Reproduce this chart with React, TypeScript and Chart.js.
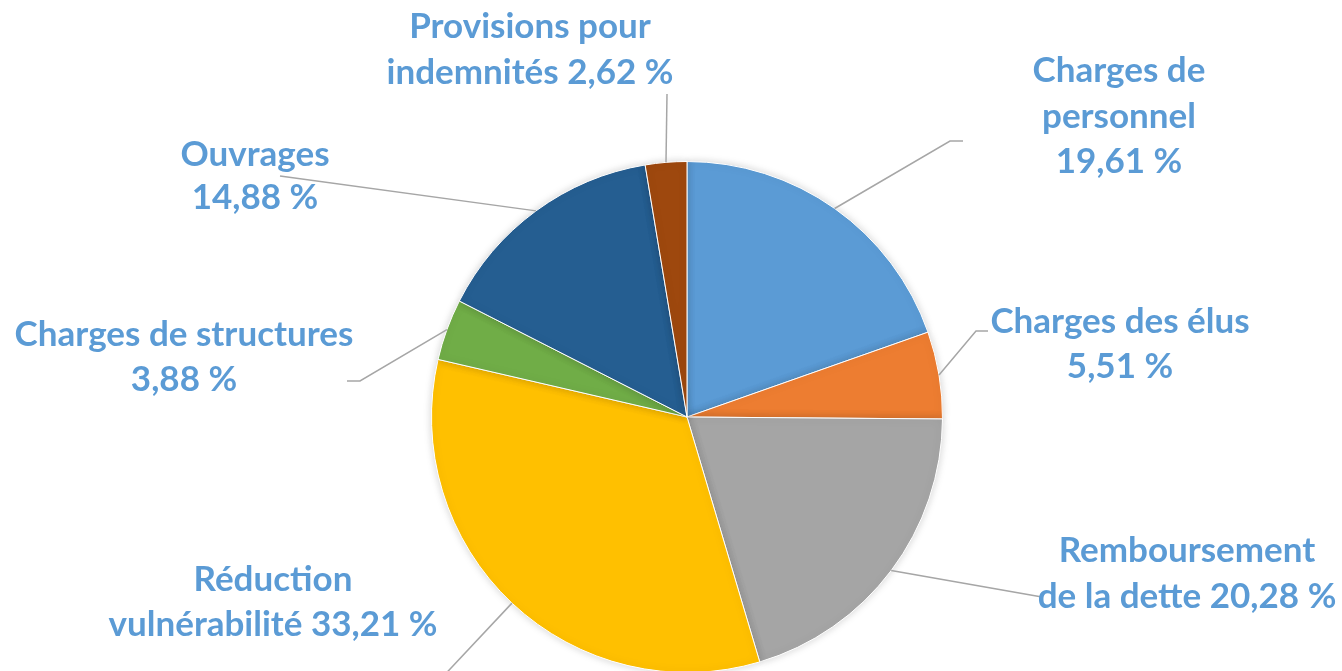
import React, { useEffect, useRef } from "react";
import { Chart, registerables } from "chart.js";

Chart.register(...registerables);

const categories = [
  "Charges de personnel",
  "Charges des élus",
  "Remboursement de la dette",
  "Réduction vulnérabilité",
  "Charges de structures",
  "Ouvrages",
  "Provisions pour indemnités",
];
const values = [19.61, 5.51, 20.28, 33.21, 3.88, 14.88, 2.62];
const colors = ["#5B9BD5", "#ED7D31", "#A5A5A5", "#FFC000", "#70AD47", "#255E91", "#9E480E"];

// Label layout: text lines ({v} = formatted value), centre x, line y's, leader line points
const labelLayout = [
  { lines: ["Charges de", "personnel", "{v}"], x: 1119, ys: [71, 117, 162], leader: [[950, 141], [963, 141]] },
  { lines: ["Charges des élus", "{v}"], x: 1120, ys: [322, 367], leader: [[976, 331], [988, 331]] },
  { lines: ["Remboursement", "de la dette {v}"], x: 1187, ys: [551, 597], leader: [[1042, 597]] },
  { lines: ["Réduction", "vulnérabilité {v}"], x: 273, ys: [580, 625], leader: [[436, 684]] },
  { lines: ["Charges de structures", "{v}"], x: 184, ys: [335, 380], leader: [[360, 381], [347, 381]] },
  { lines: ["Ouvrages", "{v}"], x: 255, ys: [155, 198], leader: [[280, 176]] },
  { lines: ["Provisions pour", "indemnités {v}"], x: 530, ys: [27, 73], leader: [[667, 94]] },
];

const fmt = (v: number) => v.toFixed(2).replace(".", ",") + " %";

const shadowPlugin = {
  id: "pieShadow",
  beforeDatasetsDraw(chart: any) {
    const ctx = chart.ctx;
    ctx.save();
    ctx.shadowColor = "rgba(0,0,0,0.18)";
    ctx.shadowBlur = 8;
    ctx.shadowOffsetX = 0;
    ctx.shadowOffsetY = 0;
  },
  afterDatasetsDraw(chart: any) {
    chart.ctx.restore();
  },
};

const labelPlugin = {
  id: "pieLabels",
  afterDraw(chart: any) {
    const ctx = chart.ctx;
    const meta = chart.getDatasetMeta(0);
    ctx.save();
    meta.data.forEach((arc: any, i: number) => {
      const p = arc.getProps(["x", "y", "startAngle", "endAngle", "outerRadius"], true);
      const mid = (p.startAngle + p.endAngle) / 2;
      const sx = p.x + Math.cos(mid) * p.outerRadius;
      const sy = p.y + Math.sin(mid) * p.outerRadius;
      const L = labelLayout[i];
      ctx.beginPath();
      ctx.moveTo(sx, sy);
      L.leader.forEach((pt) => ctx.lineTo(pt[0], pt[1]));
      ctx.strokeStyle = "#A6A6A6";
      ctx.lineWidth = 1.5;
      ctx.stroke();
    });
    ctx.fillStyle = "#5B9BD5";
    ctx.font = "bold 35px Lato";
    ctx.textAlign = "center";
    ctx.textBaseline = "middle";
    labelLayout.forEach((L, i) => {
      L.lines.forEach((line, j) => {
        ctx.fillText(line.replace("{v}", fmt(values[i])), L.x, L.ys[j]);
      });
    });
    ctx.restore();
  },
};

export default function App() {
  const ref = useRef<HTMLCanvasElement>(null);
  useEffect(() => {
    if (!ref.current) return;
    const chart = new Chart(ref.current, {
      type: "pie",
      data: {
        labels: categories,
        datasets: [
          {
            data: values,
            backgroundColor: colors,
            borderColor: "#FFFFFF",
            borderWidth: 1,
          },
        ],
      },
      options: {
        responsive: false,
        animation: false,
        devicePixelRatio: 1,
        layout: { padding: { top: 161, bottom: 27, left: 32, right: 0 } },
        plugins: {
          legend: { display: false },
          tooltip: { enabled: false },
        },
      },
      plugins: [shadowPlugin, labelPlugin],
    });
    return () => chart.destroy();
  }, []);
  return (
    <div style={{ position: "fixed", left: 0, top: 0, width: 1342, height: 671, overflow: "hidden", background: "#fff" }}>
      <canvas ref={ref} width={1342} height={700} style={{ display: "block" }} />
    </div>
  );
}
